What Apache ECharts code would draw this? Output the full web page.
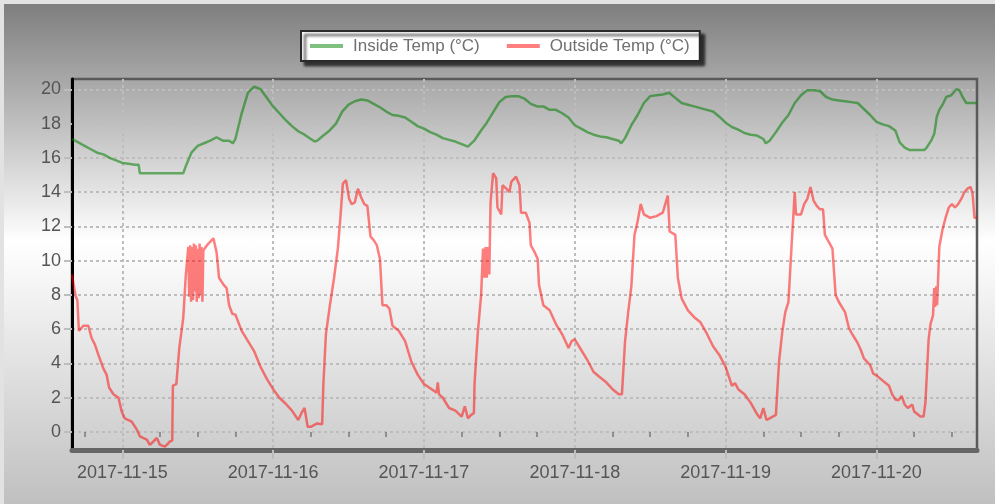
<!DOCTYPE html>
<html>
<head>
<meta charset="utf-8">
<script src="https://cdn.jsdelivr.net/npm/echarts@6/dist/echarts.min.js"></script>
<style>
  html, body { margin: 0; padding: 0; }
  #main {
    width: 995px; height: 504px;
    background: linear-gradient(to bottom, #7c7c7c 0%, #ffffff 48%, #c0c0c0 100%);
    box-shadow: inset 4px 4px 0 #e2e2e2;
  }
</style>
</head>
<body>
<div id="main"></div>
<script>
// hours since 2017-11-14 16:00
const dayLabels = ['2017-11-15', '2017-11-16', '2017-11-17', '2017-11-18', '2017-11-19', '2017-11-20'];
const dayHours = [8, 32, 56, 80, 104, 128];
const yTicks = [0, 2, 4, 6, 8, 10, 12, 14, 16, 18, 20];

const insideHours = [0, 1, 2, 3, 4, 5, 6, 7, 8, 9, 10, 10.6, 10.8, 17.7, 18.2, 19, 20, 21, 22, 23, 24, 25, 25.6, 26, 27, 28, 29, 30,
  31, 32, 33, 34, 35, 36, 37, 38, 38.6, 39, 40, 41, 42, 43, 44, 45, 46, 47, 48, 49, 50, 51, 52, 53, 54, 55, 56, 57, 58, 59, 60,
  61, 62, 63, 64, 65, 66, 67, 68, 69, 70, 71, 72, 73, 74, 75, 76, 77, 78, 79, 80, 81, 82, 83, 84, 85, 86, 87, 87.4, 88, 89, 90,
  91, 92, 93, 94, 95, 96, 97, 98, 99, 100, 101, 102, 103, 104, 105, 106, 107, 108, 109, 110, 110.4, 111, 112, 113, 114, 115,
  116, 117, 118, 119, 120, 121, 122, 123, 124, 125, 126, 127, 128, 129, 130, 131, 131.7, 132.5, 133.3, 135.6, 136, 136.7,
  137.2, 137.6, 138, 138.6, 139.1, 139.9, 140.7, 141.2, 141.7, 142.3, 144];
const insideTemp = [17.1, 16.9, 16.7, 16.5, 16.3, 16.2, 16.0, 15.85, 15.7, 15.65, 15.6, 15.6, 15.1, 15.1, 15.6, 16.3, 16.7, 16.85, 17.0, 17.2, 17.0, 17.0, 16.85, 17.1, 18.6, 19.8, 20.15, 20.0,
  19.5, 19.0, 18.6, 18.2, 17.85, 17.55, 17.35, 17.1, 16.95, 17.0, 17.3, 17.6, 18.0, 18.7, 19.1, 19.3, 19.4, 19.35, 19.15, 18.95, 18.7, 18.5, 18.45, 18.35, 18.1, 17.85, 17.7, 17.5, 17.35, 17.15, 17.05,
  16.95, 16.8, 16.65, 17.0, 17.55, 18.05, 18.65, 19.25, 19.55, 19.6, 19.6, 19.45, 19.15, 19.0, 19.0, 18.8, 18.8, 18.6, 18.35, 17.9, 17.7, 17.5, 17.35, 17.25, 17.2, 17.1, 17.0, 16.85, 17.15, 17.9, 18.5,
  19.2, 19.6, 19.65, 19.7, 19.8, 19.5, 19.2, 19.1, 19.0, 18.9, 18.8, 18.7, 18.4, 18.05, 17.8, 17.65, 17.45, 17.35, 17.3, 17.1, 16.85, 17.0, 17.5, 18.05, 18.5, 19.2,
  19.65, 19.95, 19.95, 19.9, 19.55, 19.4, 19.35, 19.3, 19.25, 19.2, 18.85, 18.5, 18.1, 17.95, 17.85, 17.6, 16.9, 16.6, 16.45, 16.45, 16.6, 17.0,
  17.4, 18.4, 18.8, 19.15, 19.55, 19.65, 20.0, 19.95, 19.55, 19.2, 19.2];

const outsideHours = [0, 0.3, 0.6, 0.85, 1.1, 1.8, 2.6, 3.1, 3.65, 4.2, 5, 5.5, 5.9, 6.6, 7.4, 7.9, 8.4, 9.5, 10.3, 10.8, 11.9, 12.4, 13.5, 14, 14.8, 15.6, 15.95,
  16.05, 16.6, 17.07, 17.7, 18.1, 18.5, 18.65, 18.8, 18.95, 19.1, 19.25, 19.4, 19.55, 19.7, 19.85, 20, 20.15, 20.3, 20.45, 20.6, 20.75, 20.9, 21.2, 21.7, 22.5, 23, 23.4, 24.1, 24.6, 25,
  25.5, 26, 27, 28, 29, 30, 31, 32, 33, 34, 35, 36, 36.5, 37, 37.5, 38, 39, 39.8, 40, 40.4, 41, 41.7, 42.3, 42.7, 43.1, 43.6, 44.1, 44.5,
  45, 45.5, 46, 46.5, 47, 47.5, 48, 48.5, 49, 49.4, 50, 50.5, 51, 52, 53, 54, 55, 56, 57, 58, 58.2, 58.4, 59, 60, 61, 62, 62.5, 63, 63.5,
  63.95, 64.05, 64.55, 65.1, 65.4, 65.6, 65.8, 66, 66.2, 66.4, 66.6, 67, 67.5, 67.7, 68.3, 68.5, 69.1, 69.6, 69.9, 70.65, 71.2, 71.45, 72.2, 72.8, 73, 73.6, 74.1, 74.3, 75, 76,
  77, 78, 79, 79.5, 80, 81, 82, 83, 84, 85, 86, 87, 87.5, 88, 88.5, 89, 89.5, 90, 90.5, 91, 92, 93, 94, 94.8, 95.1, 96, 96.4, 97, 98,
  99, 100, 101, 102, 103, 104, 105, 105.5, 106, 107, 108, 109, 109.5, 110, 110.5, 111, 112, 112.5, 113, 113.5, 114, 114.5, 115, 115.2,
  115.5, 116, 116.5, 117, 117.5, 118, 118.5, 119, 119.5, 119.8, 120, 121, 121.5, 122, 123, 123.6, 124, 124.5, 125, 125.5, 126, 127,
  127.5, 128, 129, 129.5, 130, 130.5, 131, 131.5, 132, 132.5, 133, 133.7, 134, 135, 135.5, 135.8, 136.3, 136.6, 137, 137.2, 137.35,
  137.5, 137.65, 138, 138.5, 139, 139.5, 140, 140.5, 141, 141.5, 142, 142.5, 143, 143.3, 143.6, 144];
const outsideTemp = [9.2, 8.5, 7.9, 7.7, 5.9, 6.2, 6.2, 5.5, 5.1, 4.5, 3.7, 3.35, 2.6, 2.2, 2.0, 1.2, 0.8, 0.6, 0.15, -0.25, -0.45, -0.75, -0.35, -0.75, -0.85, -0.55, -0.5,
  2.7, 2.8, 4.9, 6.65, 9.1, 10.8, 7.9, 10.9, 7.6, 10.8, 7.7, 11.0, 8.2, 10.9, 7.6, 10.7, 7.8, 11.0, 8.0, 10.8, 7.6, 10.6, 10.5, 11.0, 11.3, 10.5, 9.0, 8.6, 8.4, 7.4,
  6.9, 6.85, 5.9, 5.3, 4.7, 3.8, 3.1, 2.5, 2.0, 1.65, 1.25, 0.7, 1.1, 1.4, 0.3, 0.3, 0.5, 0.45, 2.8, 5.7, 7.3, 9.0, 10.7, 12.5, 14.5, 14.7, 13.6, 13.3,
  13.4, 14.2, 13.7, 13.3, 13.2, 11.4, 11.2, 10.9, 10.1, 7.4, 7.4, 7.2, 6.2, 5.9, 5.3, 4.1, 3.35, 2.8, 2.55, 2.3, 2.9, 2.2, 2.0, 1.4, 1.25, 0.9, 1.5, 0.8, 1.0,
  1.1, 2.8, 5.7, 8.0, 10.7, 9.0, 10.8, 9.0, 10.8, 9.2, 13.4, 15.1, 14.8, 13.1, 12.7, 14.4, 14.2, 14.0, 14.6, 14.9, 14.4, 12.8, 12.8, 12.2, 10.9, 10.5, 10.1, 8.6, 7.4, 7.1,
  6.3, 5.7, 4.9, 5.3, 5.4, 4.8, 4.2, 3.5, 3.2, 2.9, 2.5, 2.2, 2.2, 5.3, 7.0, 8.5, 11.5, 12.3, 13.3, 12.7, 12.5, 12.6, 12.8, 13.8, 11.7, 11.5, 9.0, 7.8, 7.1,
  6.7, 6.4, 5.75, 5.0, 4.5, 3.8, 2.7, 2.85, 2.5, 2.2, 1.7, 1.05, 0.8, 1.4, 0.7, 0.8, 1.0, 4.1, 5.8, 7.0, 7.6, 10.9, 14.0, 12.7,
  12.6, 12.7, 13.3, 13.6, 14.3, 13.5, 13.2, 13.0, 13.0, 11.5, 11.4, 10.7, 8.0, 7.6, 7.0, 6.1, 5.8, 5.5, 5.2, 4.8, 4.3, 3.9,
  3.4, 3.3, 3.0, 2.85, 2.7, 2.2, 1.9, 1.85, 2.1, 1.6, 1.4, 1.6, 1.2, 0.9, 0.9, 1.75, 5.4, 6.3, 6.8, 8.4, 7.3,
  8.5, 7.4, 10.8, 11.8, 12.5, 13.1, 13.3, 13.1, 13.3, 13.6, 14.0, 14.2, 14.3, 13.9, 12.5, 12.5];

const zip = (xs, ys) => xs.map((x, i) => [x, ys[i]]);

// minor ticks every 6 hours, skipping midnights
const minorTicks = [];
for (let h = 2; h <= 144; h += 6) {
  if (dayHours.indexOf(h) < 0) minorTicks.push(h);
}

const font = 'Liberation Sans, Arial, sans-serif';
const gridColor = '#bdbdbd';

const chart = echarts.init(document.getElementById('main'), null, { renderer: 'canvas' });
chart.setOption({
  animation: false,
  backgroundColor: 'transparent',
  textStyle: { fontFamily: font },
  legend: {
    left: 301,
    top: 31,
    padding: [6, 10, 6, 9],
    itemGap: 27,
    itemWidth: 33,
    itemHeight: 4,
    icon: 'rect',
    backgroundColor: '#ffffff',
    borderColor: '#2a2a2a',
    borderWidth: 2,
    borderRadius: 0,
    shadowColor: 'rgba(0,0,0,0.7)',
    shadowBlur: 3,
    shadowOffsetX: 4,
    shadowOffsetY: 4,
    textStyle: { fontSize: 17, color: '#707070', fontFamily: font, padding: [0, 0, 0, 5], lineHeight: 18 },
    data: ['Inside Temp (°C)', 'Outside Temp (°C)']
  },
  grid: {
    left: 72, right: 18, top: 79, bottom: 54,
    show: true,
    borderColor: '#5a5a5a',
    borderWidth: 2.5,
    backgroundColor: 'transparent'
  },
  xAxis: [
    {
      type: 'value',
      min: 0, max: 144,
      axisLine: { show: true, onZero: false, lineStyle: { color: '#666', width: 5 } },
      axisTick: { show: true, customValues: dayHours, length: 9, lineStyle: { color: gridColor, width: 2 } },
      axisLabel: {
        customValues: dayHours,
        margin: 14,
        fontSize: 18,
        color: '#555',
        fontFamily: font,
        formatter: v => dayLabels[dayHours.indexOf(v)] || ''
      },
      splitLine: { show: true, lineStyle: { color: gridColor, width: 2, type: [3, 3] } }
    },
    {
      type: 'value',
      min: 0, max: 144,
      position: 'bottom',
      axisLine: { show: false },
      axisLabel: { show: false, customValues: minorTicks },
      axisTick: { show: true, customValues: minorTicks, length: 5, lineStyle: { color: '#7a7a7a', width: 1.5 } },
      splitLine: { show: false }
    }
  ],
  yAxis: {
    type: 'value',
    min: -1.05, max: 20.6,
    axisLine: { show: true, onZero: false, lineStyle: { color: '#000', width: 3 } },
    axisTick: { show: true, customValues: yTicks, length: 8, lineStyle: { color: gridColor, width: 2 } },
    axisLabel: { customValues: yTicks, margin: 11, fontSize: 18, color: '#555', fontFamily: font },
    splitLine: { show: true, lineStyle: { color: gridColor, width: 2, type: [3, 3] } }
  },
  series: [
    {
      name: 'Inside Temp (°C)',
      type: 'line',
      xAxisIndex: 0,
      symbol: 'none',
      color: 'rgba(0,128,0,0.5)',
      lineStyle: { color: 'rgba(0,128,0,0.55)', width: 2.5 },
      data: zip(insideHours, insideTemp)
    },
    {
      name: 'Outside Temp (°C)',
      type: 'line',
      xAxisIndex: 0,
      symbol: 'none',
      color: 'rgba(255,0,0,0.5)',
      lineStyle: { color: 'rgba(255,0,0,0.5)', width: 2.5 },
      data: zip(outsideHours, outsideTemp)
    }
  ]
});
</script>
</body>
</html>
